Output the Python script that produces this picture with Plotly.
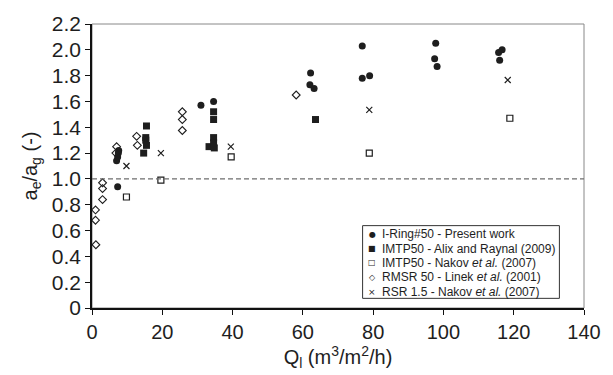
import plotly.graph_objects as go

# I-Ring#50 - Present work
ring_q = [7.3, 7.0, 7.3, 7.5, 7.6, 31.0, 34.6, 62.2, 62.0, 63.2, 76.9, 76.9, 79.0, 97.8, 97.5, 98.2, 115.7, 116.7, 116.0]
ring_v = [0.94, 1.14, 1.17, 1.20, 1.22, 1.57, 1.60, 1.82, 1.73, 1.70, 2.03, 1.78, 1.80, 2.05, 1.93, 1.87, 1.98, 2.00, 1.92]
# IMTP50 - Alix and Raynal (2009)
alix_q = [14.7, 15.5, 15.3, 15.3, 15.5, 33.3, 34.6, 34.6, 34.6, 34.6, 34.8, 63.6]
alix_v = [1.20, 1.41, 1.32, 1.30, 1.26, 1.25, 1.52, 1.46, 1.32, 1.28, 1.24, 1.46]
# IMTP50 - Nakov et al. (2007)
nakov_q = [9.8, 19.6, 39.6, 78.9, 118.9]
nakov_v = [0.86, 0.99, 1.17, 1.20, 1.47]
# RMSR 50 - Linek et al. (2001)
linek_q = [1.1, 1.0, 1.0, 3.0, 3.0, 3.0, 6.8, 7.0, 12.7, 12.9, 25.7, 25.7, 25.7, 58.1]
linek_v = [0.49, 0.68, 0.76, 0.84, 0.925, 0.97, 1.20, 1.25, 1.33, 1.26, 1.52, 1.46, 1.375, 1.65]
# RSR 1.5 - Nakov et al. (2007)
rsr_q = [9.8, 19.6, 39.5, 78.9, 118.3]
rsr_v = [1.10, 1.20, 1.25, 1.535, 1.766]

series_names = [
    "I-Ring#50 - Present work",
    "IMTP50 - Alix and Raynal (2009)",
    "IMTP50 - Nakov <i>et al.</i> (2007)",
    "RMSR 50 - Linek <i>et al.</i> (2001)",
    "RSR 1.5 - Nakov <i>et al.</i> (2007)",
]
legend_glyphs = ["●", "■", "□", "◇", "×"]

ref_line_v = 1.0
x_ticks = [0, 20, 40, 60, 80, 100, 120, 140]
y_ticks = [0, 0.2, 0.4, 0.6, 0.8, 1.0, 1.2, 1.4, 1.6, 1.8, 2.0, 2.2]
y_ticktext = ["0", "0.2", "0.4", "0.6", "0.8", "1.0", "1.2", "1.4", "1.6", "1.8", "2.0", "2.2"]

ink = "#1e1e1e"
series = [
    (ring_q, ring_v, dict(symbol="circle", size=7, color=ink, line=dict(width=0))),
    (alix_q, alix_v, dict(symbol="square", size=7, color=ink, line=dict(width=0))),
    (nakov_q, nakov_v, dict(symbol="square-open", size=6, color=ink, line=dict(width=1.2))),
    (linek_q, linek_v, dict(symbol="diamond-open", size=6, color=ink, line=dict(width=1.1))),
    (rsr_q, rsr_v, dict(symbol="x-thin-open", size=6, color=ink, line=dict(width=1.2))),
]

fig = go.Figure()
for (qx, vy, mk), nm in zip(series, series_names):
    fig.add_trace(go.Scatter(x=qx, y=vy, mode="markers", name=nm, marker=mk, showlegend=False))

fig.add_hline(y=ref_line_v, line=dict(color="#6e6e6e", width=1.3, dash="5px,3px"))

# light frame on top/right
fig.add_shape(type="rect", xref="paper", yref="paper", x0=0, y0=0, x1=1, y1=1,
              line=dict(color="#888888", width=1), layer="below")

font = "Liberation Sans, Arial, Helvetica, sans-serif"

# compact boxed legend (as in the reference)
leg_x0, leg_x1, leg_y0, leg_y1 = 0.55, 0.95, 0.034, 0.29
row_top, row_step = 0.26, 0.0505
glyph_x, text_x = 0.57, 0.585
fig.add_shape(type="rect", xref="paper", yref="paper", x0=leg_x0, x1=leg_x1, y0=leg_y0, y1=leg_y1,
              line=dict(color="#333333", width=1), fillcolor="white", layer="above")
for i, (g, nm) in enumerate(zip(legend_glyphs, series_names)):
    yy = row_top - i * row_step
    fig.add_annotation(xref="paper", yref="paper", x=glyph_x, y=yy, text=g, showarrow=False,
                       xanchor="center", yanchor="middle",
                       font=dict(size=8 if i < 4 else 9, family="DejaVu Sans", color=ink))
    fig.add_annotation(xref="paper", yref="paper", x=text_x, y=yy, text=nm, showarrow=False,
                       xanchor="left", yanchor="middle", font=dict(size=12, family=font, color=ink))

fig.update_layout(
    width=613, height=375,
    margin=dict(l=92, r=17, t=19, b=61),
    plot_bgcolor="white", paper_bgcolor="white",
    font=dict(family=font, color=ink, size=20),
    showlegend=False,
    xaxis=dict(range=[0, 140], tickvals=x_ticks, showgrid=False, zeroline=False,
               showline=True, linecolor="#111111", linewidth=1.5,
               ticks="outside", ticklen=5, tickcolor="#111111",
               tickfont=dict(size=20),
               title=dict(text="Q<sub>l</sub> (m<sup>3</sup>/m<sup>2</sup>/h)", font=dict(size=20), standoff=6)),
    yaxis=dict(range=[0, 2.2], tickvals=y_ticks, ticktext=y_ticktext, showgrid=False, zeroline=False,
               showline=True, linecolor="#111111", linewidth=1.5,
               ticks="outside", ticklen=5, tickcolor="#111111",
               tickfont=dict(size=21),
               title=dict(text="a<sub>e</sub>/a<sub>g</sub> (-)", font=dict(size=20), standoff=9)),
)

fig.write_html("out.html")
